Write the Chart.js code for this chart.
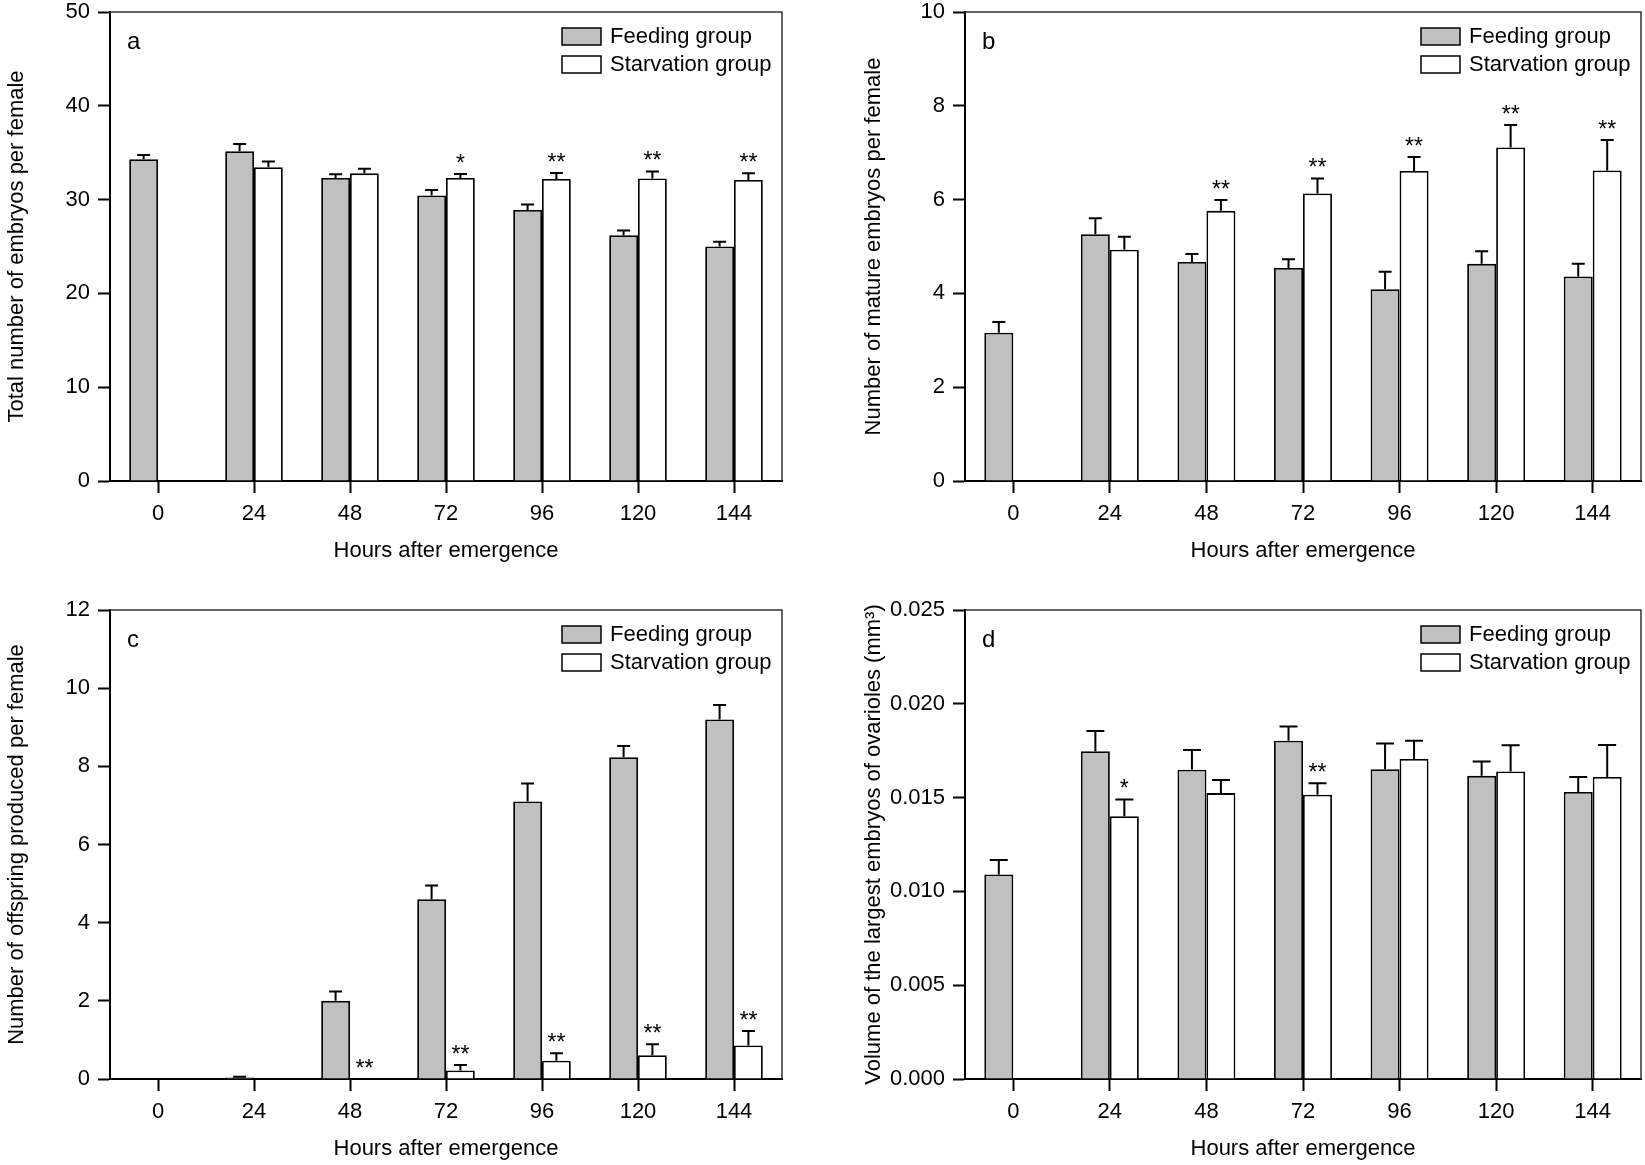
<!DOCTYPE html>
<html>
<head>
<meta charset="utf-8">
<script src="https://cdn.jsdelivr.net/npm/chart.js@4.4.1/dist/chart.umd.min.js"></script>
<style>
  body { margin: 0; background: #fff; width: 1645px; height: 1165px; overflow: hidden; position: relative; }
  canvas { position: absolute; }
</style>
</head>
<body>
<canvas id="chartA" width="800" height="581" style="left:0px;top:-10px"></canvas>
<canvas id="chartB" width="800" height="581" style="left:845px;top:-10px"></canvas>
<canvas id="chartC" width="800" height="581" style="left:0px;top:588px"></canvas>
<canvas id="chartD" width="800" height="581" style="left:845px;top:588px"></canvas>
<script>
// Hours after emergence (categories)
const hours = ['0', '24', '48', '72', '96', '120', '144'];

// a: total number of embryos per female
const feedA = [34.3, 35.15, 32.3, 30.45, 28.9, 26.2, 25.0];
const feedAErr = [0.45, 0.78, 0.4, 0.57, 0.57, 0.5, 0.5];
const starvA = [null, 33.45, 32.8, 32.3, 32.2, 32.25, 32.1];
const starvAErr = [0, 0.6, 0.5, 0.43, 0.64, 0.75, 0.7];
const sigA = ['', '', '', '*', '**', '**', '**'];

// b: number of mature embryos per female
const feedB = [3.16, 5.26, 4.67, 4.54, 4.09, 4.63, 4.36];
const feedBErr = [0.23, 0.34, 0.17, 0.19, 0.37, 0.27, 0.27];
const starvB = [null, 4.93, 5.76, 6.13, 6.61, 7.11, 6.62];
const starvBErr = [0, 0.28, 0.23, 0.32, 0.30, 0.48, 0.65];
const sigB = ['', '', '**', '**', '**', '**', '**'];

// c: number of offspring produced per female
const feedC = [0, 0.04, 2.0, 4.6, 7.1, 8.23, 9.2];
const feedCErr = [0, 0.02, 0.24, 0.35, 0.46, 0.29, 0.37];
const starvC = [null, 0, 0, 0.22, 0.47, 0.61, 0.86];
const starvCErr = [0, 0, 0, 0.14, 0.19, 0.28, 0.37];
const sigC = ['', '', '**', '**', '**', '**', '**'];

// d: volume of the largest embryos of ovarioles (mm3)
const feedD = [0.0109, 0.01747, 0.01649, 0.01803, 0.01651, 0.01616, 0.0153];
const feedDErr = [0.00078, 0.00108, 0.00105, 0.00076, 0.00138, 0.00076, 0.0008];
const starvD = [null, 0.01401, 0.01524, 0.01515, 0.01706, 0.01639, 0.0161];
const starvDErr = [0, 0.00089, 0.0007, 0.00062, 0.00097, 0.0014, 0.0017];
const sigD = ['', '*', '', '**', '', '', ''];

const FONT = '"Liberation Sans", Arial, sans-serif';
const FEED_FILL = '#c0c0c0';
const STARV_FILL = '#ffffff';

// frame, error bars, significance stars, legend and panel letter
const panelDecor = {
  id: 'panelDecor',
  afterDatasetsDraw(chart, args, opts) {
    const ctx = chart.ctx;
    const area = chart.chartArea;
    const yScale = chart.scales.y;
    ctx.save();

    // top / right frame
    ctx.strokeStyle = '#333';
    ctx.lineWidth = 1.5;
    ctx.beginPath();
    ctx.moveTo(area.left, area.top);
    ctx.lineTo(area.right, area.top);
    ctx.lineTo(area.right, area.bottom);
    ctx.stroke();

    // error bars (upper half only)
    ctx.strokeStyle = '#000';
    ctx.lineWidth = 2;
    chart.data.datasets.forEach((ds, di) => {
      const meta = chart.getDatasetMeta(di);
      ds.data.forEach((v, i) => {
        const e = ds.err[i];
        if (v === null || !e) return;
        const bar = meta.data[i];
        const y0 = yScale.getPixelForValue(v);
        const y1 = yScale.getPixelForValue(v + e);
        ctx.beginPath();
        ctx.moveTo(bar.x, y0);
        ctx.lineTo(bar.x, y1);
        ctx.moveTo(bar.x - opts.cap / 2, y1);
        ctx.lineTo(bar.x + opts.cap / 2, y1);
        ctx.stroke();
      });
    });

    // significance marks above starvation bars
    const sds = chart.data.datasets[1];
    const smeta = chart.getDatasetMeta(1);
    ctx.fillStyle = '#000';
    ctx.font = '23px ' + FONT;
    ctx.textAlign = 'center';
    ctx.textBaseline = 'alphabetic';
    sds.sig.forEach((s, i) => {
      if (!s) return;
      const v = sds.data[i] || 0;
      const y = yScale.getPixelForValue(v + (sds.err[i] || 0));
      ctx.fillText(s, smeta.data[i].x, y - 3);
    });

    // legend
    ctx.font = '22px ' + FONT;
    ctx.textAlign = 'left';
    ctx.textBaseline = 'middle';
    chart.data.datasets.forEach((ds, di) => {
      const bx = area.right - 220;
      const by = area.top + 16 + di * 28;
      ctx.fillStyle = ds.backgroundColor;
      ctx.fillRect(bx, by, 39, 17);
      ctx.strokeStyle = '#000';
      ctx.lineWidth = 1.5;
      ctx.strokeRect(bx, by, 39, 17);
      ctx.fillStyle = '#000';
      ctx.fillText(ds.label, bx + 48, by + 9);
    });

    // panel letter
    ctx.font = '24px ' + FONT;
    ctx.fillText(opts.letter, area.left + 17, area.top + 30);
    ctx.restore();
  }
};

function buildChart(canvasId, o) {
  const axisText = { family: FONT, size: 22 };
  const gridStyle = {
    display: true, offset: false, drawOnChartArea: false, drawTicks: true,
    tickLength: 12, tickColor: '#000', tickWidth: 2
  };
  const ctx = document.getElementById(canvasId).getContext('2d');
  return new Chart(ctx, {
    type: 'bar',
    data: {
      labels: hours,
      datasets: [
        {
          label: 'Feeding group', data: o.feed, err: o.feedErr,
          backgroundColor: FEED_FILL, borderColor: '#000', borderWidth: 1.8,
          categoryPercentage: 0.6, barPercentage: 1.0
        },
        {
          label: 'Starvation group', data: o.starv, err: o.starvErr, sig: o.sig,
          backgroundColor: STARV_FILL, borderColor: '#000', borderWidth: 1.8,
          categoryPercentage: 0.6, barPercentage: 1.0
        }
      ]
    },
    options: {
      responsive: false,
      animation: false,
      devicePixelRatio: 1,
      layout: { padding: { top: 22, right: o.padRight, left: 0, bottom: 0 } },
      plugins: {
        legend: { display: false },
        tooltip: { enabled: false },
        panelDecor: { letter: o.letter, cap: o.cap }
      },
      scales: {
        x: {
          offset: true,
          grid: gridStyle,
          border: { display: true, color: '#000', width: 2 },
          ticks: { color: '#000', font: axisText, padding: 8, maxRotation: 0, autoSkip: false },
          title: {
            display: true, text: 'Hours after emergence', color: '#000',
            font: axisText, padding: { top: 0, bottom: 7 }
          },
          afterFit: (s) => { s.height = 90; }
        },
        y: {
          min: 0,
          max: o.max,
          grid: gridStyle,
          border: { display: true, color: '#000', width: 2 },
          ticks: { stepSize: o.step, color: '#000', font: axisText, padding: 8, callback: o.fmt },
          title: {
            display: true, text: o.yTitle, color: '#000',
            font: axisText, padding: { top: o.titlePad, bottom: 0 }
          },
          afterFit: (s) => { s.width = o.yWidth; }
        }
      }
    },
    plugins: [panelDecor]
  });
}

const intFmt = (v) => String(Math.round(v));

buildChart('chartA', {
  feed: feedA, feedErr: feedAErr, starv: starvA, starvErr: starvAErr, sig: sigA,
  max: 50, step: 10, fmt: intFmt, letter: 'a', cap: 13,
  yTitle: 'Total number of embryos per female', yWidth: 110, padRight: 18, titlePad: 4
});
buildChart('chartB', {
  feed: feedB, feedErr: feedBErr, starv: starvB, starvErr: starvBErr, sig: sigB,
  max: 10, step: 2, fmt: intFmt, letter: 'b', cap: 13,
  yTitle: 'Number of mature embryos per female', yWidth: 120, padRight: 4, titlePad: 16
});
buildChart('chartC', {
  feed: feedC, feedErr: feedCErr, starv: starvC, starvErr: starvCErr, sig: sigC,
  max: 12, step: 2, fmt: intFmt, letter: 'c', cap: 13,
  yTitle: 'Number of offspring produced per female', yWidth: 110, padRight: 18, titlePad: 4
});
buildChart('chartD', {
  feed: feedD, feedErr: feedDErr, starv: starvD, starvErr: starvDErr, sig: sigD,
  max: 0.025, step: 0.005, fmt: (v) => v.toFixed(3), letter: 'd', cap: 18,
  yTitle: 'Volume of the largest embryos of ovarioles (mm\u00B3)', yWidth: 120, padRight: 4, titlePad: 16
});
</script>
</body>
</html>
